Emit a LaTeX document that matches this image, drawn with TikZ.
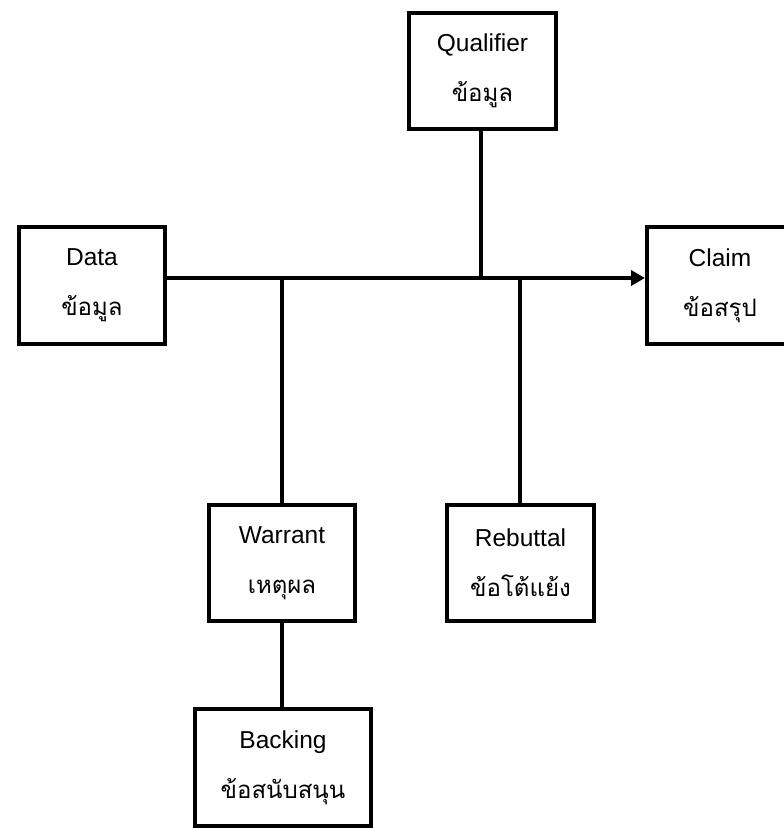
\documentclass[tikz,border=0pt]{standalone}
\usepackage{fontspec}
\setmainfont{Liberation Sans}
\newfontfamily\thai[Script=Thai]{Loma}
\usetikzlibrary{arrows.meta}
\newcommand{\thtxt}[1]{{\thai\fontsize{24}{50}\selectfont #1}}
\tikzset{
  tbox/.style={draw=black, line width=4pt, fill=white, inner sep=0pt, align=center,
    font=\fontsize{24.5}{50}\selectfont},
  link/.style={draw=black, line width=4pt},
}
\begin{document}
\begin{tikzpicture}[x=1pt,y=1pt]
\useasboundingbox (0,0) rectangle (784,-828);
\clip (0,0) rectangle (784,-828);
\fill[white] (0,0) rectangle (784,-828);
\node[tbox, minimum width=147pt, minimum height=116pt] (qual) at (482.5,-71) {Qualifier\\\thtxt{ข้อมูล}};
\node[tbox, minimum width=146pt, minimum height=117pt] (data) at (92,-285.5) {Data\\\thtxt{ข้อมูล}};
\node[tbox, minimum width=146pt, minimum height=117pt] (claim) at (720,-285.5) {Claim\\\thtxt{ข้อสรุป}};
\node[tbox, minimum width=146pt, minimum height=116pt] (warr) at (282,-563) {Warrant\\\thtxt{เหตุผล}};
\node[tbox, minimum width=147pt, minimum height=116pt] (rebut) at (520.5,-563) {Rebuttal\\\thtxt{ข้อโต้แย้ง}};
\node[tbox, minimum width=176pt, minimum height=117pt] (back) at (283,-767.5) {Backing\\\thtxt{ข้อสนับสนุน}};
\coordinate (jw) at (282,-278);
\coordinate (jq) at (481,-278);
\coordinate (jr) at (520,-278);
\draw[link, -{Triangle[length=14pt,width=15pt]}] (data.east |- jw) -- (claim.west |- jw);
\draw[link] (qual.south -| jq) -- (jq);
\draw[link] (jw) -- (warr.north -| jw);
\draw[link] (warr.south -| jw) -- (back.north -| jw);
\draw[link] (jr) -- (rebut.north -| jr);
\end{tikzpicture}
\end{document}
